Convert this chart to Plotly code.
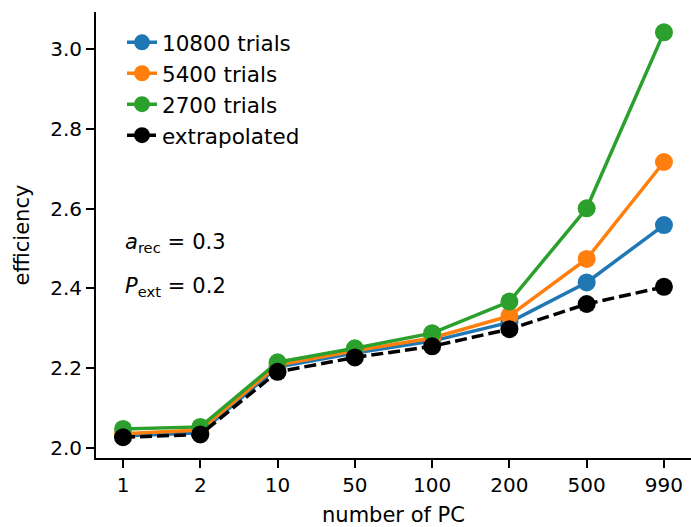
import plotly.graph_objects as go

n_pc = ["1", "2", "10", "50", "100", "200", "500", "990"]
eff_10800 = [2.030, 2.038, 2.203, 2.238, 2.268, 2.315, 2.415, 2.559]
eff_5400 = [2.036, 2.045, 2.208, 2.244, 2.276, 2.331, 2.474, 2.717]
eff_2700 = [2.048, 2.053, 2.215, 2.250, 2.288, 2.367, 2.601, 3.042]
eff_extrap = [2.027, 2.034, 2.191, 2.227, 2.255, 2.298, 2.361, 2.404]

series_names = ["10800 trials", "5400 trials", "2700 trials", "extrapolated"]
series_colors = ["#1f77b4", "#ff7f0e", "#2ca02c", "black"]
series_dash = ["solid", "solid", "solid", "12px,5px"]
series_vals = [eff_10800, eff_5400, eff_2700, eff_extrap]

FONT = "DejaVu Sans"

fig = go.Figure()
for name, col, dash, vals in zip(series_names, series_colors, series_dash, series_vals):
    fig.add_trace(go.Scatter(
        x=list(range(len(n_pc))), y=vals, name=name, mode="lines+markers",
        legendgroup=name,
        line=dict(color=col, width=3.5, dash=dash),
        marker=dict(color=col, size=18),
    ))

fig.update_layout(
    width=691, height=527,
    margin=dict(l=96, r=0, t=12, b=69),
    paper_bgcolor="white", plot_bgcolor="white",
    font=dict(family=FONT, size=20, color="black"),
    showlegend=True,
    legend=dict(x=0.0437, y=0.978, xanchor="left", yanchor="top",
                bgcolor="rgba(255,255,255,0)", font=dict(size=21.5),
                tracegroupgap=0),
)
fig.update_xaxes(
    range=[-0.35, 7.35], tickmode="array", tickvals=list(range(len(n_pc))),
    ticktext=n_pc, showgrid=False, zeroline=False,
    showline=True, linecolor="black", linewidth=2, mirror=False,
    ticks="outside", ticklen=8, tickwidth=2, tickcolor="black",
    tickfont=dict(size=20),
    title=dict(text="number of PC", standoff=16, font=dict(size=21)),
)
fig.update_yaxes(
    range=[1.975, 3.093], tickmode="array",
    tickvals=[2.0, 2.2, 2.4, 2.6, 2.8, 3.0],
    ticktext=["2.0", "2.2", "2.4", "2.6", "2.8", "3.0"],
    showgrid=False, zeroline=False,
    showline=True, linecolor="black", linewidth=2, mirror=False,
    ticks="outside", ticklen=8, tickwidth=2, tickcolor="black",
    tickfont=dict(size=20), automargin=True,
    title=dict(text="efficiency", standoff=15, font=dict(size=21)),
)
fig.add_annotation(xref="paper", yref="paper", x=0.045, y=0.482,
                   xanchor="left", yanchor="middle", showarrow=False,
                   text="<i>a</i><sub>rec</sub>&#8196;=&#8196;0.3", font=dict(size=21))
fig.add_annotation(xref="paper", yref="paper", x=0.045, y=0.383,
                   xanchor="left", yanchor="middle", showarrow=False,
                   text="<i>P</i><sub>ext</sub>&#8196;=&#8196;0.2", font=dict(size=21))

fig.write_html("out.html")
